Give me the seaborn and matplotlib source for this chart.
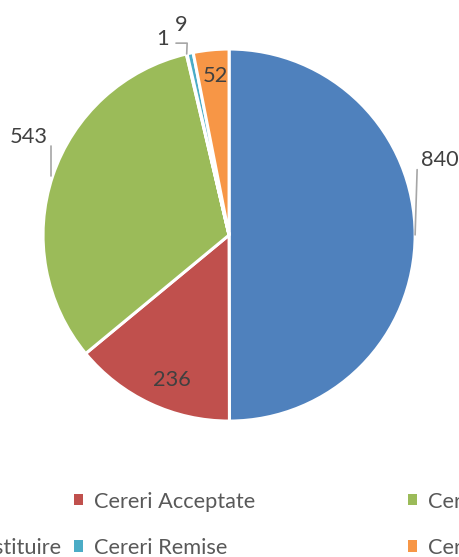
import numpy as np
import matplotlib.pyplot as plt
import seaborn as sns

sns.set_theme(style="white")
plt.rcParams["font.family"] = ["Lato", "DejaVu Sans"]

# data
labels = [
    "Cereri Depuse",
    "Cereri Acceptate",
    "Cereri Respinse",
    "Cereri Transmise spre Restituire",
    "Cereri Remise",
    "Cereri in Analiza",
]
values = [840, 236, 543, 1, 9, 52]
colors = ["#4F81BD", "#C0504D", "#9BBB59", "#8064A2", "#4BACC6", "#F79646"]

# label placement (radius, angle shift from wedge middle, leader)
label_r = [1.20, 0.84, 1.20, 1.11, 1.16, 0.86]
label_shift = [19.5, 3.7, -7.5, 5.5, 0.8, -0.6]
leader = [True, False, True, True, False, False]

FS = 15.7

fig = plt.figure(figsize=(4.6, 5.57), dpi=100)
ax = fig.add_axes([0.0935, 0.244, 0.809, 0.668])

wedges, _ = ax.pie(
    values,
    colors=colors,
    startangle=90,
    counterclock=False,
    radius=1,
    wedgeprops=dict(edgecolor="white", linewidth=2.2),
)
ax.set_xlim(-1, 1)
ax.set_ylim(-1, 1)
ax.set_aspect("equal")
ax.axis("off")

for w, v, r, sh, ld in zip(wedges, values, label_r, label_shift, leader):
    mid = (w.theta1 + w.theta2) / 2
    ang = np.deg2rad(mid + sh)
    tx, ty = r * np.cos(ang), r * np.sin(ang)
    ax.text(tx, ty, str(v), ha="center", va="center", fontsize=FS,
            color="#404040", clip_on=False)
    if ld:
        m = np.deg2rad(mid)
        ex, ey = np.cos(m), np.sin(m)
        if tx > 0:
            px, py = tx - 0.12, ty - 0.05
            ax.plot([ex, px], [ey, py], color="#A6A6A6", lw=1.2, clip_on=False)
        elif ty > 0.9:
            px, py = tx + 0.07, ty - 0.02
            ax.plot([px, px + 0.06, ex], [py, py, ey], color="#A6A6A6",
                    lw=1.2, clip_on=False)
        else:
            px, py = tx + 0.12, ty - 0.05
            ax.plot([px, px], [py, ey], color="#A6A6A6", lw=1.2, clip_on=False)

# legend: Excel-style rows, first column pushed off the left edge
leg_kw = dict(frameon=False, fontsize=FS, labelcolor="#595959",
              handlelength=0.42, handleheight=0.42, handletextpad=0.5,
              labelspacing=1.2)
leg1 = fig.legend([wedges[0], wedges[3]], [labels[0], labels[3]],
                  loc="center right", bbox_to_anchor=(0.175, 0.058), **leg_kw)
for h in leg1.legend_handles:
    h.set_edgecolor("none")
leg2 = fig.legend([wedges[1], wedges[4], wedges[2], wedges[5]],
                  [labels[1], labels[4], labels[2], labels[5]], ncol=2,
                  loc="center left", bbox_to_anchor=(0.118, 0.058),
                  columnspacing=7.0, **leg_kw)
for h in leg2.legend_handles:
    h.set_edgecolor("none")

fig.savefig("out.png", dpi=100)
